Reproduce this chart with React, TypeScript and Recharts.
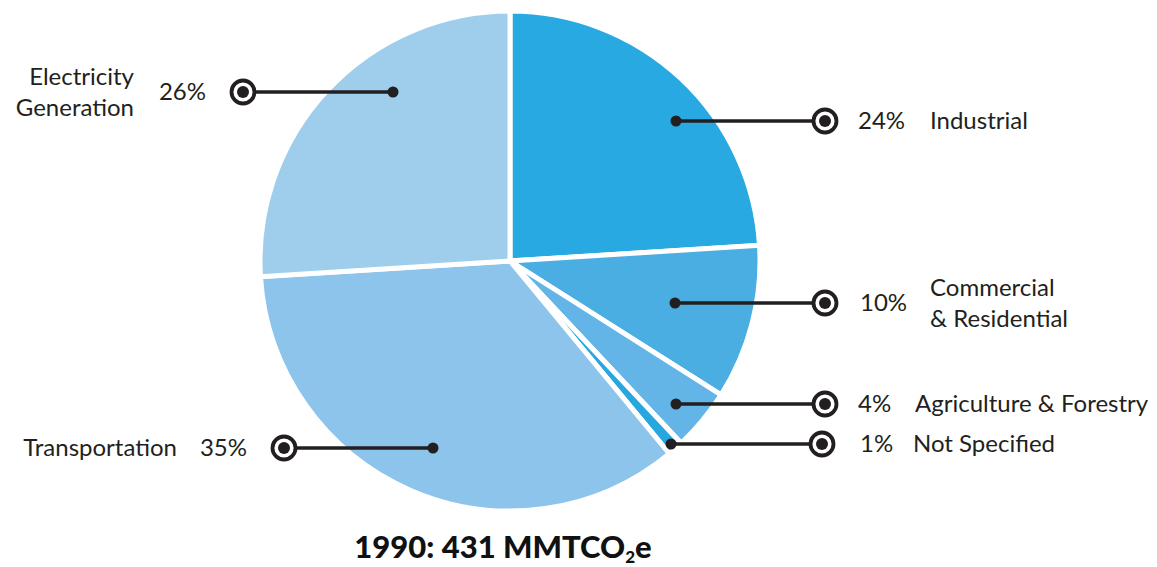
import { PieChart, Pie, Cell } from "recharts";

// Emission shares by sector, clockwise from 12 o'clock
const sectors = [
  "Industrial",
  "Commercial & Residential",
  "Agriculture & Forestry",
  "Not Specified",
  "Transportation",
  "Electricity Generation",
];
const shares = [24, 10, 4, 1, 35, 26];
const labelLines = [
  ["Industrial"],
  ["Commercial", "& Residential"],
  ["Agriculture & Forestry"],
  ["Not Specified"],
  ["Transportation"],
  ["Electricity", "Generation"],
];
const colors = ["#29A9E1", "#4AAEE2", "#62B5E6", "#27A6DF", "#8DC4EB", "#9FCEED"];

const data = sectors.map((name, i) => ({ name, value: shares[i] }));

// callout geometry, offsets from the pie centre
// dot = inner end of the leader, ring = target marker, pct/name = text x, side = text direction
const callouts = [
  { dot: [166, -140], ring: 315, pct: 348, name: 420, side: 1 },
  { dot: [165, 42], ring: 315, pct: 350, name: 420, side: 1 },
  { dot: [166, 143], ring: 315, pct: 348, name: 405, side: 1 },
  { dot: [161, 183], ring: 312, pct: 350, name: 403, side: 1 },
  { dot: [-77, 187], ring: -226, pct: -263, name: -333, side: -1 },
  { dot: [-117, -169], ring: -267, pct: -304, name: -376, side: -1 },
];

const INK = "#231F20";
const FONT = "Lato, 'Noto Sans', sans-serif";

const renderCallout = (props: any) => {
  const { cx, cy, index, value } = props;
  const c = callouts[index];
  const y = cy + c.dot[1];
  const x0 = cx + c.dot[0];
  const xr = cx + c.ring;
  const anchor = c.side > 0 ? "start" : "end";
  const lines = labelLines[index];
  const lh = 31;
  const ty = y - 1.5;
  return (
    <g key={`callout-${index}`}>
      <line x1={x0} y1={y} x2={xr} y2={y} stroke={INK} strokeWidth={3.5} />
      <circle cx={x0} cy={y} r={5.5} fill={INK} />
      <circle cx={xr} cy={y} r={11.5} fill="#fff" stroke={INK} strokeWidth={3.8} />
      <circle cx={xr} cy={y} r={6} fill={INK} />
      <text
        x={cx + c.pct}
        y={ty}
        textAnchor={anchor}
        dominantBaseline="central"
        fontFamily={FONT}
        fontSize={24}
        fill={INK}
      >
        {`${value}%`}
      </text>
      {lines.map((ln, k) => (
        <text
          key={k}
          x={cx + c.name}
          y={ty + (k - (lines.length - 1) / 2) * lh}
          textAnchor={anchor}
          dominantBaseline="central"
          fontFamily={FONT}
          fontSize={24}
          fill={INK}
        >
          {ln}
        </text>
      ))}
    </g>
  );
};

export default function App() {
  return (
    <div style={{ position: "absolute", left: 0, top: 0, width: 1157, height: 567, background: "#fff" }}>
      <PieChart width={1157} height={567} margin={{ top: 0, right: 0, bottom: 0, left: 0 }}>
        <Pie
          data={data}
          dataKey="value"
          nameKey="name"
          cx={510}
          cy={261}
          outerRadius={250}
          startAngle={90}
          endAngle={-270}
          stroke="#fff"
          strokeWidth={5}
          label={renderCallout}
          labelLine={false}
          isAnimationActive={false}
        >
          {data.map((d, i) => (
            <Cell key={d.name} fill={colors[i]} />
          ))}
        </Pie>
      </PieChart>
      <div
        style={{
          position: "absolute",
          left: 0,
          width: 1006,
          top: 531,
          lineHeight: "31px",
          textAlign: "center",
          fontFamily: FONT,
          fontWeight: 900,
          fontSize: 31,
          color: "#111",
        }}
      >
        1990: 431 MMTCO
        <span style={{ fontSize: 17, lineHeight: "17px", position: "relative", top: 5 }}>2</span>e
      </div>
    </div>
  );
}
